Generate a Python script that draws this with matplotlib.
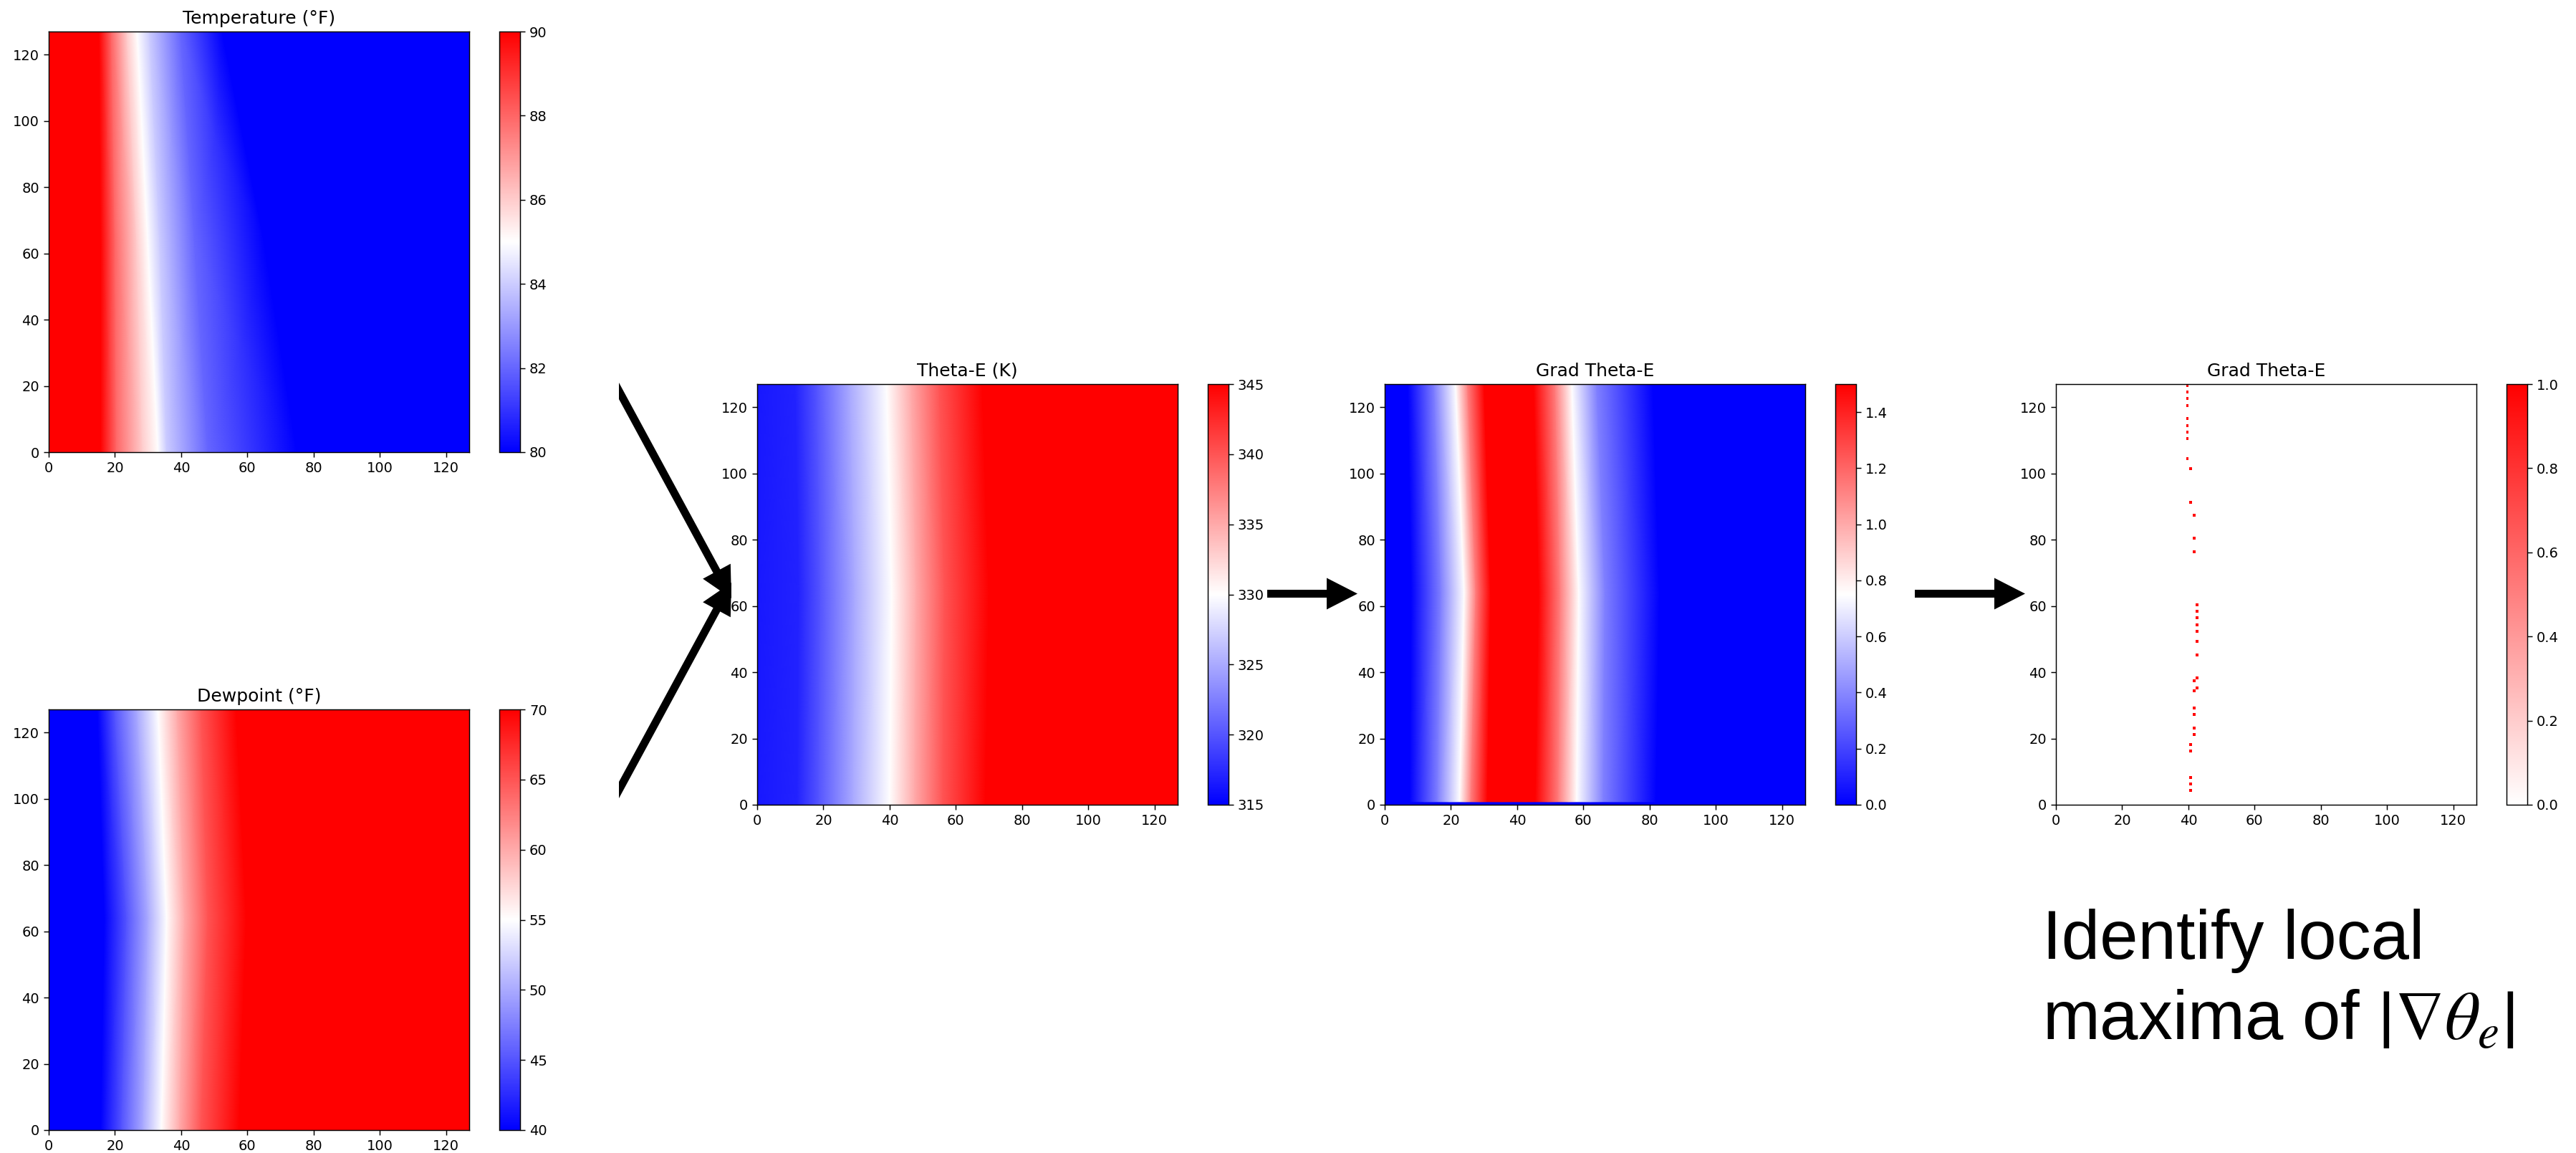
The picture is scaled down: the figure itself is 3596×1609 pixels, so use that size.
import numpy as np
import matplotlib
matplotlib.use('Agg')
import matplotlib.pyplot as plt
from matplotlib.colors import LinearSegmentedColormap
from matplotlib.cm import ScalarMappable
from matplotlib.colors import Normalize
from matplotlib.patches import FancyArrow, Rectangle

W, H = 3596, 1609

# rows of the 128x128 grid where the fronts were read (bottom, middle, top)
rows = [0, 64, 127]

# Temperature (°F): grid x where each level is reached, per row
temp_levels = [92, 90, 88, 86, 85, 84, 82, 80, 78]
temp_x_bottom = [0, 15.7, 20.4, 28.3, 33.0, 35.6, 48.0, 75.0, 127]
temp_x_mid = [0, 15.7, 20.0, 26.5, 29.9, 33.5, 44.0, 65.0, 127]
temp_x_top = [0, 15.2, 18.9, 23.6, 26.7, 30.4, 39.8, 52.4, 127]

# Dewpoint (°F)
dew_levels = [38, 40, 45, 50, 55, 60, 65, 70, 72]
dew_x_bottom = [0, 15.7, 22.0, 28.5, 34.0, 39.5, 46.0, 57.5, 127]
dew_x_mid = [0, 16.8, 23.5, 30.0, 35.6, 41.0, 48.0, 59.7, 127]
dew_x_top = [0, 14.7, 19.9, 26.7, 33.0, 38.8, 46.0, 56.6, 127]

# Theta-E (K)
theta_levels = [316.5, 317, 320, 325, 330, 335, 340, 345, 346]
theta_x_bottom = [0, 12.0, 18.5, 29.0, 40.0, 47.5, 56.0, 69.0, 127]
theta_x_mid = [0, 12.5, 19.0, 29.5, 40.6, 48.0, 56.5, 70.0, 127]
theta_x_top = [0, 11.5, 18.0, 28.0, 39.1, 46.5, 55.0, 68.0, 127]

# Grad Theta-E
grad_levels = [0, 0, 0.375, 0.75, 1.125, 1.5, 1.8, 1.5, 1.125, 0.75, 0.375, 0, 0]
grad_x_bottom = [0, 7.5, 16.0, 22.6, 26.0, 31.0, 39.0, 45.5, 52.5, 58.0, 66.0, 82.0, 127]
grad_x_mid = [0, 8.0, 17.0, 24.0, 27.5, 32.0, 40.0, 46.5, 53.0, 58.6, 66.5, 83.0, 127]
grad_x_top = [0, 7.0, 15.0, 21.4, 25.0, 30.0, 38.0, 45.0, 51.5, 56.5, 64.0, 81.0, 127]
grad_edge_rows = [0, 0.7]  # zero-gradient strip along the bottom edge

# local maxima of |grad theta-e|
max_x = [39.7, 39.7, 39.7, 39.7, 39.7, 39.7, 39.7, 39.7, 39.7,
         40.6, 40.6, 41.7, 41.7, 41.7,
         42.7, 42.7, 42.7, 42.7, 42.7, 42.7, 42.7, 42.7,
         41.7, 42.7, 41.7, 41.7, 41.7, 41.7, 41.7,
         40.6, 40.6, 40.6, 40.6, 40.6]
max_y = [126.6, 124.6, 122.6, 120.6, 116.7, 114.5, 112.6, 110.6, 104.5,
         101.5, 91.4, 87.4, 80.4, 76.4,
         60.4, 58.4, 56.4, 54.3, 52.4, 49.4, 45.3, 38.2,
         37.4, 35.3, 34.3, 29.2, 27.3, 23.2, 21.3,
         18.2, 16.2, 8.2, 6.2, 4.3]

plt.rcParams['font.size'] = 14
plt.rcParams['axes.titlesize'] = 18
plt.rcParams['axes.linewidth'] = 1.06
for a in ('xtick', 'ytick'):
    plt.rcParams[a + '.major.size'] = 4.7
    plt.rcParams[a + '.major.width'] = 1.06
    plt.rcParams[a + '.major.pad'] = 4.6

fig = plt.figure(figsize=(W / 100, H / 100), dpi=100)


def px(left, top, w, h):
    return [left / W, 1 - (top + h) / H, w / W, h / H]


def mesh(levels, x_rows, y_rows):
    X = np.array(x_rows, dtype=float)
    Y = np.repeat(np.array(y_rows, dtype=float)[:, None], X.shape[1], axis=1)
    C = np.tile(np.array(levels, dtype=float), (len(y_rows), 1))
    return X, Y, C


def pad(X, Y, C):
    # run the mesh a little past the axes so no seam shows at the frame
    X = np.pad(X, 1, mode='edge')
    Y = np.pad(Y, 1, mode='edge')
    C = np.pad(C, 1, mode='edge')
    X[:, 0] -= 3
    X[:, -1] += 3
    Y[0] -= 3
    Y[-1] += 3
    return X, Y, C


def panel(left, top, title, X, Y, C, cmap, vmin, vmax, cticks):
    ax = fig.add_axes(px(left, top, 587, 587))
    X, Y, C = pad(X, Y, C)
    m = ax.pcolormesh(X, Y, C, shading='gouraud', cmap=cmap, vmin=vmin, vmax=vmax,
                      antialiased=False)
    ax.set_xlim(0, 127)
    ax.set_ylim(0, 127)
    ax.set_xticks(range(0, 121, 20))
    ax.set_yticks(range(0, 121, 20))
    ax.set_title(title, pad=8)
    cax = fig.add_axes(px(left + 629, top, 29, 587))
    fig.colorbar(m, cax=cax, ticks=cticks)
    return ax


X, Y, C = mesh(temp_levels, [temp_x_bottom, temp_x_mid, temp_x_top], rows)
panel(68, 44, 'Temperature (°F)', X, Y, C, 'bwr', 80, 90, range(80, 91, 2))

X, Y, C = mesh(dew_levels, [dew_x_bottom, dew_x_mid, dew_x_top], rows)
panel(68, 990, 'Dewpoint (°F)', X, Y, C, 'bwr', 40, 70, range(40, 71, 5))

X, Y, C = mesh(theta_levels, [theta_x_bottom, theta_x_mid, theta_x_top], rows)
panel(1057, 536, 'Theta-E (K)', X, Y, C, 'bwr', 315, 345, range(315, 346, 5))

X, Y, C = mesh(grad_levels,
               [grad_x_bottom, grad_x_bottom, grad_x_bottom, grad_x_mid, grad_x_top],
               grad_edge_rows + [1] + rows[1:])
C[:len(grad_edge_rows)] = 0
panel(1933, 536, 'Grad Theta-E', X, Y, C, 'bwr', 0, 1.5, np.arange(0, 1.41, 0.2))

# maxima panel
white_red = LinearSegmentedColormap.from_list('wr', ['#ffffff', '#ff0000'])
ax = fig.add_axes(px(2870, 536, 587, 587))
ax.scatter(max_x, max_y, c=np.ones(len(max_x)), cmap=white_red, vmin=0, vmax=1,
           marker='s', s=8, linewidths=0)
ax.set_xlim(0, 127)
ax.set_ylim(0, 127)
ax.set_xticks(range(0, 121, 20))
ax.set_yticks(range(0, 121, 20))
ax.set_title('Grad Theta-E', pad=8)
cax = fig.add_axes(px(2870 + 629, 536, 29, 587))
fig.colorbar(ScalarMappable(Normalize(0, 1), white_red), cax=cax,
             ticks=np.arange(0, 1.01, 0.2))

# overlay in pixel coordinates for arrows and note
ov = fig.add_axes([0, 0, 1, 1], zorder=10)
ov.set_xlim(0, W)
ov.set_ylim(H, 0)
ov.axis('off')
ov.patch.set_alpha(0)

arrows = [  # x, y, dx, dy
    (848, 516, 173, 319),
    (848, 1132, 173, -319),
    (1769, 828.5, 126, 0),
    (2673, 828.5, 154, 0),
]
clip = Rectangle((864, 0), W, H, transform=ov.transData)
for i, (x, y, dx, dy) in enumerate(arrows):
    arr = FancyArrow(x, y, dx, dy, width=11, head_width=44, head_length=43,
                     length_includes_head=True, color='black', lw=0)
    ov.add_patch(arr)
    if i < 2:
        arr.set_clip_path(clip)

ov.text(2851, 1338, 'Identify local', fontsize=69, family='Liberation Sans',
        va='baseline', ha='left')
ov.text(2851, 1450, r'maxima of $\left|\nabla\theta_e\right|$', fontsize=69,
        family='Liberation Sans', math_fontfamily='stix', va='baseline', ha='left')

fig.savefig('out.png', dpi=100)
